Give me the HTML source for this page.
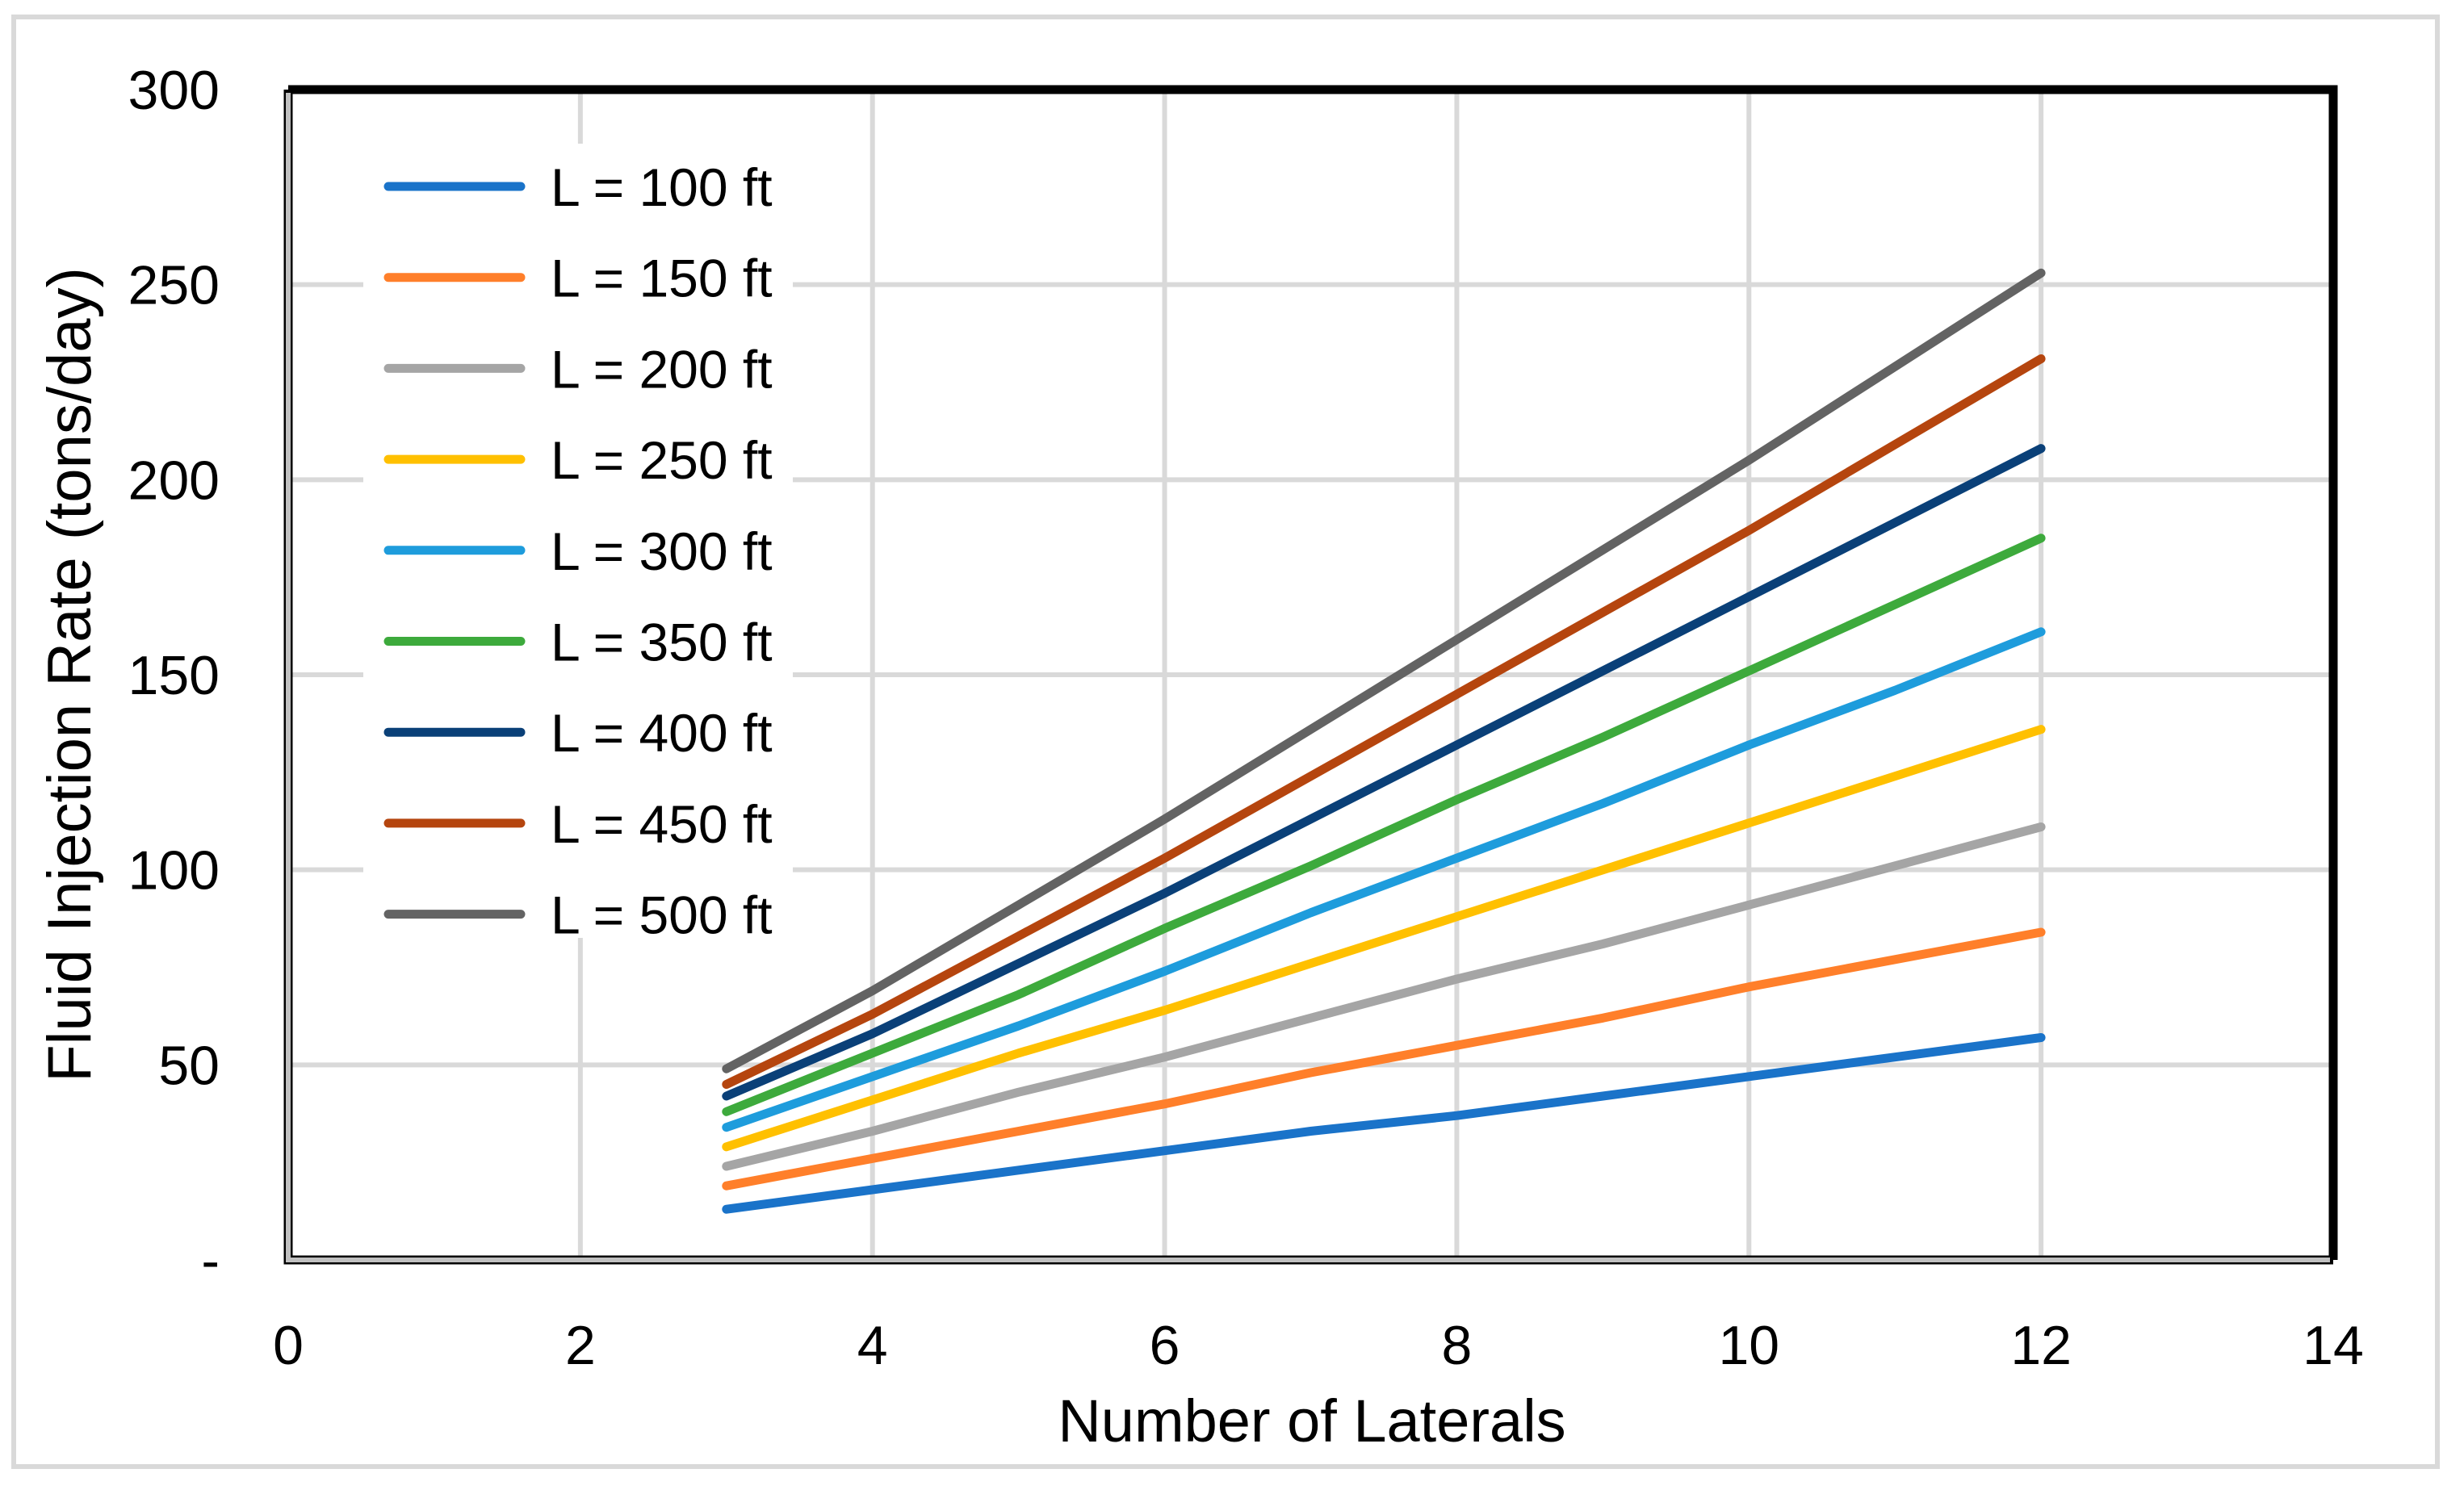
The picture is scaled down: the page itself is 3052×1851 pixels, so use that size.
<!DOCTYPE html>
<html><head><meta charset="utf-8"><style>
html,body{margin:0;padding:0;background:#fff;}
svg{display:block;font-family:"Liberation Sans",sans-serif;}
</style></head><body>
<svg id="chart" width="3052" height="1851" viewBox="0 0 3052 1851" xmlns="http://www.w3.org/2000/svg">
<rect x="17" y="21" width="3002" height="1796" fill="#fff" stroke="#d9d9d9" stroke-width="6"/>
<g id="grid"></g>
<g id="series"></g>
<g id="legend"></g>
<g id="axes"></g>
<text x="1625" y="1786" font-size="74" text-anchor="middle">Number of Laterals</text>
<text transform="translate(112,836) rotate(-90)" font-size="76" text-anchor="middle">Fluid Injection Rate (tons/day)</text>
</svg>
<script>
const xValues = [3,4,5,6,7,8,9,10,11,12];
const seriesNames = ["L = 100 ft","L = 150 ft","L = 200 ft","L = 250 ft","L = 300 ft","L = 350 ft","L = 400 ft","L = 450 ft","L = 500 ft"];
const s100 = [13,18,23,28,33,37,42,47,52,57];
const s150 = [19,26,33,40,48,55,62,70,77,84];
const s200 = [24,33,43,52,62,72,81,91,101,111];
const s250 = [29,41,53,64,76,88,100,112,124,136];
const s300 = [34,47,60,74,89,103,117,132,146,161];
const s350 = [38,53,68,85,101,118,134,151,168,185];
const s400 = [42,58,76,94,113,132,151,170,189,208];
const s450 = [45,63,83,103,124,145,166,187,209,231];
const s500 = [49,69,91,113,136,159,182,205,229,253];
const xTicks = [0,2,4,6,8,10,12,14];
const yTicks = [0,50,100,150,200,250,300];
const yTickLabels = ["-","50","100","150","200","250","300"];

const colors = ["#1a73c9","#ff7f2a","#a5a5a5","#ffc000","#1e9cdc","#3daa3c","#0a4078","#b5450e","#636363"];
const allSeries = [s100,s150,s200,s250,s300,s350,s400,s450,s500];
const PL=357, PR=2890, PT=111, PB=1561;
const X = v => PL + (v-0)/(14-0)*(PR-PL);
const Y = v => PB - (v-0)/(300-0)*(PB-PT);
const NS="http://www.w3.org/2000/svg";
function mk(tag, parent, attrs){const e=document.createElementNS(NS,tag);for(const k in attrs)e.setAttribute(k,attrs[k]);parent.appendChild(e);return e;}
const grid=document.getElementById('grid'), ser=document.getElementById('series'), leg=document.getElementById('legend'), axes=document.getElementById('axes');
xTicks.forEach(t=>{
  const l=mk('line',grid,{x1:X(t),x2:X(t),y1:PT,y2:PB,stroke:'#d9d9d9','stroke-width':6});
  
  
  const tx=mk('text',axes,{x:X(t),y:1690,'font-size':68,'text-anchor':'middle'});
  tx.textContent=t;
  
  
});
yTicks.forEach((t,i)=>{
  const l=mk('line',grid,{x1:PL,x2:PR,y1:Y(t),y2:Y(t),stroke:'#d9d9d9','stroke-width':6});
  
  
  const tx=mk('text',axes,{x:272,y:Y(t)+24,'font-size':68,'text-anchor':'end'});
  tx.textContent=yTickLabels[i];
  
  
});
const lb=mk('rect',leg,{x:450,y:178,width:532,height:984,fill:'#fff'});


allSeries.forEach((s,i)=>{
  const d=s.map((v,j)=>(j?'L':'M')+X(xValues[j]).toFixed(1)+','+Y(v).toFixed(1)).join(' ');
  const p=mk('path',ser,{d:d,fill:'none',stroke:colors[i],'stroke-width':11,'stroke-linecap':'round','stroke-linejoin':'round'});
  
  
  const ly=231+i*112.7;
  const ll=mk('line',leg,{x1:481,x2:645,y1:ly,y2:ly,stroke:colors[i],'stroke-width':11,'stroke-linecap':'round'});
  
  
  const lt=mk('text',leg,{x:682,y:ly+24,'font-size':66});
  lt.textContent=seriesNames[i];
  
  
});
const b1=mk('path',axes,{d:`M${PL} ${PT} H${PR} V${PB}`,fill:'none',stroke:'#000','stroke-width':11});


const b2=mk('path',axes,{d:`M${PL} ${PT} V${PB} H${PR}`,fill:'none',stroke:'#000','stroke-width':11});


const b3=mk('path',axes,{d:`M${PL} ${PT+4} V${PB} H${PR-4}`,fill:'none',stroke:'#c0c0c0','stroke-width':6});


</script>
</body></html>
